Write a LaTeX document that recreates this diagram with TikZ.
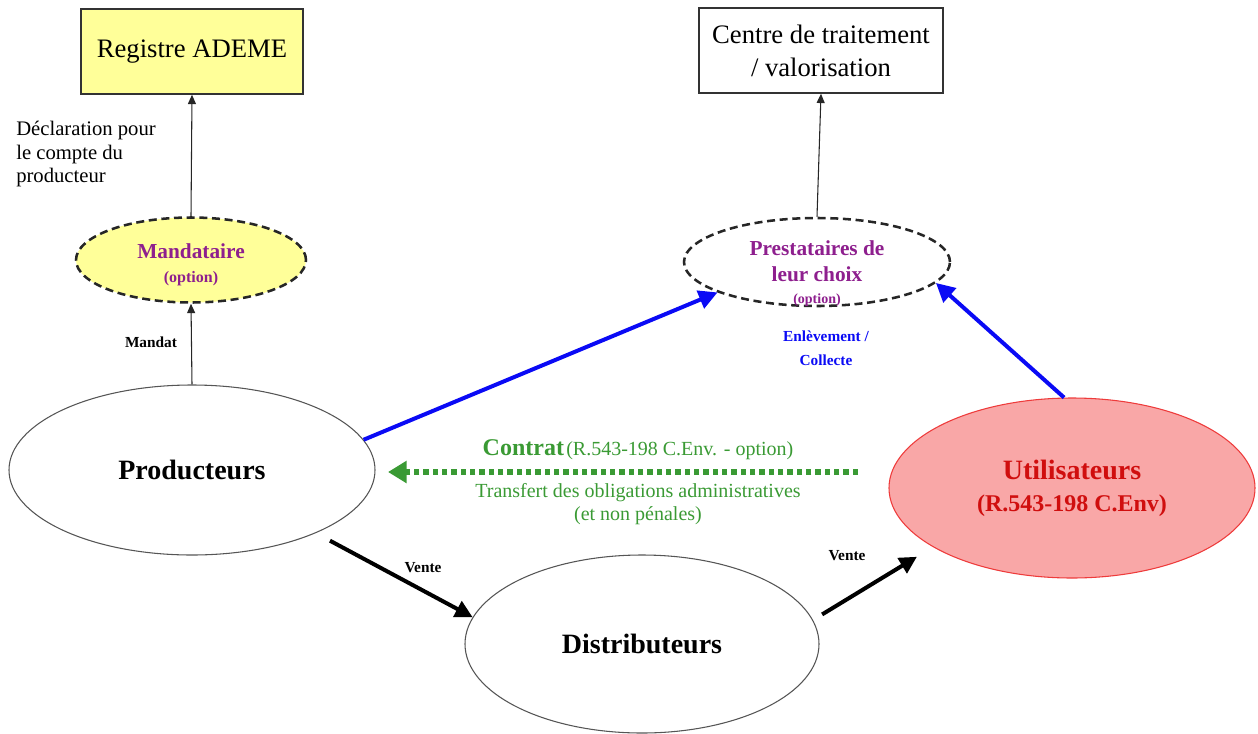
\documentclass[tikz,border=0pt]{standalone}
\usepackage{fontspec}
\setmainfont{Liberation Serif}
\usetikzlibrary{shapes.geometric,arrows.meta}
\definecolor{regyellow}{HTML}{FFFF99}
\definecolor{purp}{HTML}{8E1F8E}
\definecolor{bluearr}{HTML}{0A0AF5}
\definecolor{grn}{HTML}{3A9A34}
\definecolor{utilfill}{HTML}{F9A7A7}
\definecolor{utilline}{HTML}{EE3B3B}
\definecolor{utiltext}{HTML}{D00E0E}
\definecolor{edge}{HTML}{555555}
\begin{document}
\begin{tikzpicture}[x=0.75pt,y=-0.75pt,
  rectbox/.style={draw=black!80, line width=1.1pt, minimum width=166.5pt, minimum height=63.75pt, inner sep=0pt, align=center},
  oval/.style={ellipse, draw=edge, line width=0.8pt, inner sep=0pt, align=center},
  dashoval/.style={ellipse, draw=black!85, line width=1.9pt, dash pattern=on 6pt off 3.5pt, inner sep=0pt, align=center},
  thinarrow/.style={draw=black!85, line width=0.8pt, -{Triangle[length=7pt,width=6pt]}},
  bluearrow/.style={draw=bluearr, line width=3pt, -{Triangle[length=14pt,width=14pt]}},
  blkarrow/.style={draw=black, line width=3pt, -{Triangle[length=13pt,width=13pt]}},
  grnarrow/.style={draw=grn, line width=4.5pt, dash pattern=on 4pt off 3pt, -{Triangle[length=14pt,width=16pt]}},
  smallbold/.style={font=\fontsize{11.5}{13.5}\selectfont\bfseries}
]
\useasboundingbox (0,0) rectangle (1258,733);

% top boxes
\node[rectbox, fill=regyellow, font=\fontsize{20}{24}\selectfont] (reg) at (192,51.5) {Registre ADEME};
\node[rectbox, minimum width=183pt, font=\fontsize{20}{24.75}\selectfont] (centre) at (821,50.5) {Centre de traitement\\/ valorisation};

% optional ovals
\node[dashoval, fill=regyellow, minimum width=172.5pt, minimum height=63.75pt] (mand) at (191,260) {};
\node[text=purp, align=center, inner sep=0pt, font=\fontsize{16}{18}\selectfont\bfseries] (mandt) at (191,265)
  {Mandataire\\{\fontsize{12}{14}\selectfont (option)}};
\node[dashoval, fill=white, minimum width=199.5pt, minimum height=66pt] (prest) at (817,262) {};

% main ovals
\node[oval, minimum width=274.5pt, minimum height=127.5pt, font=\fontsize{21}{25}\selectfont\bfseries] (prod) at (192,470) {Producteurs};
\node[oval, minimum width=265.5pt, minimum height=133.5pt, font=\fontsize{21}{25}\selectfont\bfseries] (dist) at (642,644) {Distributeurs};
\node[oval, draw=utilline, fill=utilfill, minimum width=274.5pt, minimum height=135pt, text=utiltext, font=\fontsize{21}{24}\selectfont\bfseries] (util) at (1072,488)
  {Utilisateurs\\{\fontsize{18}{22}\selectfont (R.543-198 C.Env)}};

% text of the prestataires oval
\node[text=purp, align=center, inner sep=0pt, font=\fontsize{16}{19.5}\selectfont\bfseries] (prestt) at (817,274)
  {Prestataires de\\leur choix\\[-3pt]{\fontsize{10.5}{12}\selectfont (option)}};

% connectors
\draw[thinarrow] (mand.north) -- (reg.south);
\draw[thinarrow] (prod.north) -- (mand.south);
\draw[thinarrow] (prest.north) -- (centre.south);
\draw[bluearrow] (prod.10) -- (prest.197);
\draw[bluearrow] (util.95) -- (prest.350);
\draw[blkarrow, shorten <=12pt] (prod.333) -- (dist.171);
\draw[blkarrow, shorten <=8pt, shorten >=14pt] (dist.8) -- (util.203);
\coordinate (gs) at (858,472);
\coordinate (ge) at (388,472);
\draw[grnarrow] (gs) -- (ge);

% labels
\node[align=left, anchor=north west, inner sep=0pt, font=\fontsize{15.5}{17.6}\selectfont] (decl) at (16,121)
  {Déclaration pour\\le compte du\\producteur};
\node[smallbold] (mandat) at (151,342) {Mandat};
\node[smallbold, text=bluearr, align=center, font=\fontsize{11.5}{18}\selectfont\bfseries] (enl) at (826,348) {Enlèvement /\\Collecte};
\node[smallbold] (vente1) at (423,568) {Vente};
\node[smallbold] (vente2) at (847,556) {Vente};
\node[text=grn, inner sep=0pt] (contrat) at (638,450)
  {{\fontsize{18}{21}\selectfont\bfseries Contrat}\,{\fontsize{15}{17}\selectfont (R.543-198 C.Env. - option)}};
\node[text=grn, align=center, inner sep=0pt, font=\fontsize{15}{17.25}\selectfont] (transf) at (638,504)
  {Transfert des obligations administratives\\(et non pénales)};
\end{tikzpicture}
\end{document}
